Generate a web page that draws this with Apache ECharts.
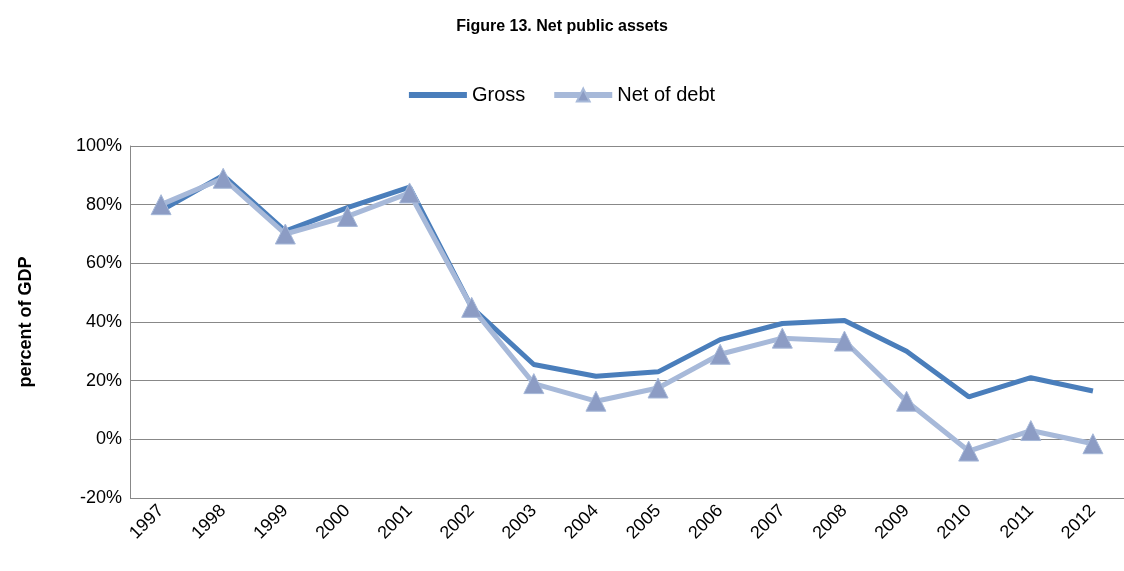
<!DOCTYPE html>
<html><head><meta charset="utf-8">
<script src="https://cdn.jsdelivr.net/npm/echarts@6/dist/echarts.min.js"></script>
<style>html,body{margin:0;background:#fff}#c{width:1124px;height:571px}</style>
</head><body><div id="c"></div>
<script>
var years = ['1997','1998','1999','2000','2001','2002','2003','2004','2005','2006','2007','2008','2009','2010','2011','2012'];
var gross = [78, 90, 71, 79, 86, 45, 25.5, 21.5, 23, 34, 39.5, 40.5, 30, 14.5, 21, 16.5];
var netOfDebt = [80, 89, 70, 76, 84, 45, 19, 13, 17.5, 29, 34.5, 33.5, 13, -4, 3, -1.5];

var chart = echarts.init(document.getElementById('c'));
chart.setOption({
  animation: false,
  title: { text: 'Figure 13. Net public assets', left: 'center', top: 14,
    textStyle: { fontFamily: 'Liberation Sans', fontSize: 16, fontWeight: 'bold', color: '#000' } },
  legend: { top: 80, left: 'center', itemWidth: 58, itemHeight: 16, itemGap: 26,
    textStyle: { fontFamily: 'Liberation Sans', fontSize: 20, color: '#000' },
    lineStyle: { width: 6 },
    data: [{ name: 'Gross', icon: 'path://M0,45 L100,45 L100,55 L0,55 Z' }, { name: 'Net of debt' }] },
  grid: { left: 130, right: -2, top: 146, bottom: 73 },
  xAxis: { type: 'category', data: years, boundaryGap: true,
    axisLine: { lineStyle: { color: '#888' } }, axisTick: { show: false },
    axisLabel: { rotate: 45, color: '#000', fontSize: 18, fontFamily: 'Liberation Sans', margin: 10 } },
  yAxis: { type: 'value', min: -20, max: 100, interval: 20,
    name: 'percent of GDP', nameLocation: 'middle', nameGap: 95,
    nameTextStyle: { fontFamily: 'Liberation Sans', fontSize: 18, fontWeight: 'bold', color: '#000' },
    axisLine: { show: true, lineStyle: { color: '#888' } },
    axisLabel: { formatter: '{value}%', color: '#000', fontSize: 18, fontFamily: 'Liberation Sans' },
    splitLine: { lineStyle: { color: '#888' } } },
  series: [
    { name: 'Gross', type: 'line', data: gross, symbol: 'none',
      lineStyle: { color: '#4A7EBB', width: 5 }, itemStyle: { color: '#4A7EBB' } },
    { name: 'Net of debt', type: 'line', data: netOfDebt, symbol: 'triangle', symbolSize: 20,
      lineStyle: { color: '#A7B9D9', width: 5 },
      itemStyle: { color: '#8C9CC4', borderColor: '#A7B9D9', borderWidth: 1 } }
  ]
});
</script></body></html>
